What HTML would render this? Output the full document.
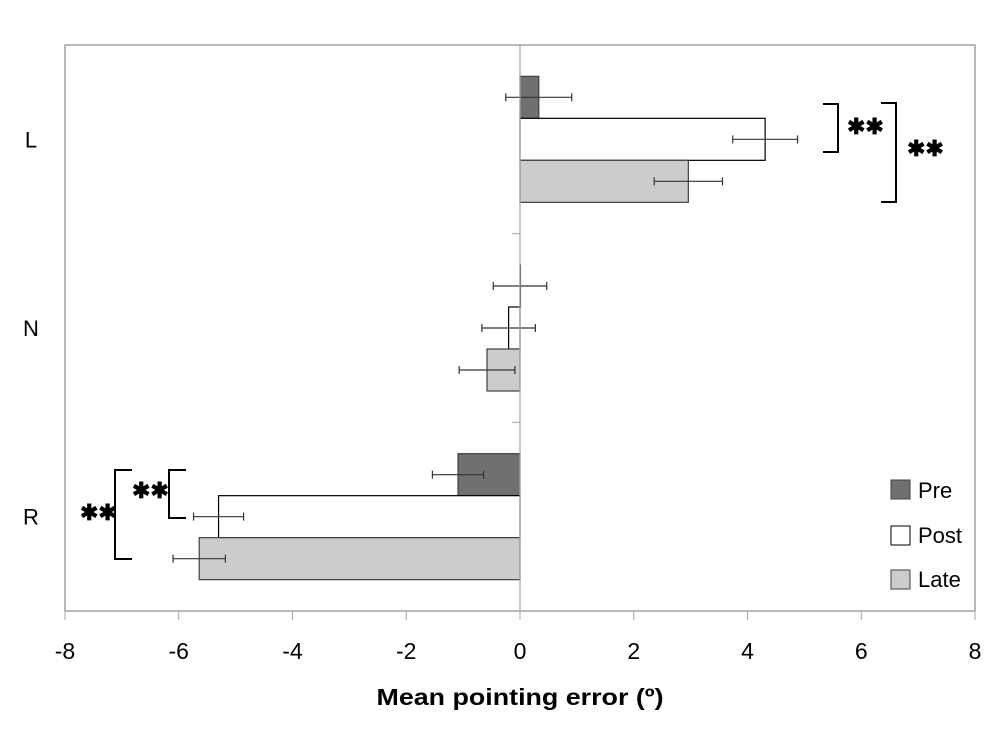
<!DOCTYPE html>
<html><head><meta charset="utf-8"><style>
html,body{margin:0;padding:0;background:#fff;}
svg{display:block;font-family:"Liberation Sans",sans-serif;}
</style></head><body>
<svg id="chart" width="1000" height="746" viewBox="0 0 1000 746" xmlns="http://www.w3.org/2000/svg">
<rect x="65" y="45" width="910" height="566" fill="none" stroke="#8c8c8c" stroke-width="1.2"/>
<g id="bars"></g>
<g id="axes"></g>
<g fill="none" stroke="#000" stroke-width="2">
<path d="M823,104 H838 V152 H823"/>
<path d="M881,103 H896 V202 H881"/>
<path d="M186,470 H169 V518 H186"/>
<path d="M132,470 H115 V559 H132"/>
</g>
<g font-size="22" font-weight="bold" fill="#000">
<text x="847" y="134">✱✱</text>
<text x="907" y="156">✱✱</text>
<text x="132" y="498">✱✱</text>
<text x="80" y="520">✱✱</text>
</g>
<g font-size="22" fill="#000">
<rect x="891" y="480" width="19" height="19" fill="#707070" stroke="#404040"/>
<text x="918" y="498">Pre</text>
<rect x="891" y="526" width="19" height="19" fill="#fff" stroke="#000"/>
<text x="918" y="543">Post</text>
<rect x="891" y="570" width="19" height="19" fill="#cccccc" stroke="#404040"/>
<text x="918" y="587">Late</text>
</g>
<text x="520" y="705" text-anchor="middle" font-size="23" font-weight="bold" textLength="287" lengthAdjust="spacingAndGlyphs">Mean pointing error (º)</text>
</svg>
<script>
const categories = ["L","N","R"];
const seriesNames = ["Pre","Post","Late"];
const preValues = [0.33, 0.0, -1.09];
const postValues = [4.31, -0.2, -5.3];
const lateValues = [2.96, -0.58, -5.64];
const preErrors = [0.58, 0.47, 0.45];
const postErrors = [0.57, 0.47, 0.44];
const lateErrors = [0.6, 0.49, 0.46];
const xTicks = [-8,-6,-4,-2,0,2,4,6,8];

const NS="http://www.w3.org/2000/svg";
const L=65,R=975,T=45,B=611;
const xMin=-8,xMax=8;
function x(v){return L+(v-xMin)/(xMax-xMin)*(R-L);}
const band=(B-T)/categories.length;
const barH=42;
function yBar(ci,si){return T+ci*band+(band-3*barH)/2+si*barH;}
function mk(tag,attrs,parent){const e=document.createElementNS(NS,tag);for(const k in attrs)e.setAttribute(k,attrs[k]);parent.appendChild(e);return e;}
const gb=document.getElementById('bars'),ga=document.getElementById('axes');
const series=[preValues,postValues,lateValues];
const errs=[preErrors,postErrors,lateErrors];
const fills=["#707070","#ffffff","#cccccc"];
const strokes=["#404040","#000000","#404040"];
categories.forEach((c,ci)=>{
  series.forEach((vals,si)=>{
    const v=vals[ci],y=yBar(ci,si);
    const r=mk('rect',{x:Math.min(x(0),x(v)),y:y,width:Math.max(Math.abs(x(v)-x(0)),0.5),height:barH,fill:fills[si],stroke:strokes[si],'stroke-width':1.2},gb);
    
    
    const e=errs[si][ci],cy=y+barH/2,x1=x(v-e),x2=x(v+e);
    const p=mk('path',{d:`M${x1},${cy}H${x2}M${x1},${cy-4}V${cy+4}M${x2},${cy-4}V${cy+4}`,stroke:'#333','stroke-width':1.2,fill:'none'},gb);
    
    
  });
  const t=mk('text',{x:31,y:T+ci*band+band/2+8,'text-anchor':'middle','font-size':22},ga);
  t.textContent=c;
  
  
});
const ax=mk('line',{x1:x(0),x2:x(0),y1:T,y2:B,stroke:'#a6a6a6','stroke-width':1.2},ga);


for(let i=1;i<categories.length;i++){
  const tk=mk('line',{x1:x(0)-8,x2:x(0),y1:T+i*band,y2:T+i*band,stroke:'#a6a6a6'},ga);
  
  
}
xTicks.forEach(v=>{
  const tk=mk('line',{x1:x(v),x2:x(v),y1:B,y2:B+9,stroke:'#a6a6a6'},ga);
  
  
  const t=mk('text',{x:x(v),y:659,'text-anchor':'middle','font-size':23},ga);
  t.textContent=String(v);
  
  
});
</script>
</body></html>
